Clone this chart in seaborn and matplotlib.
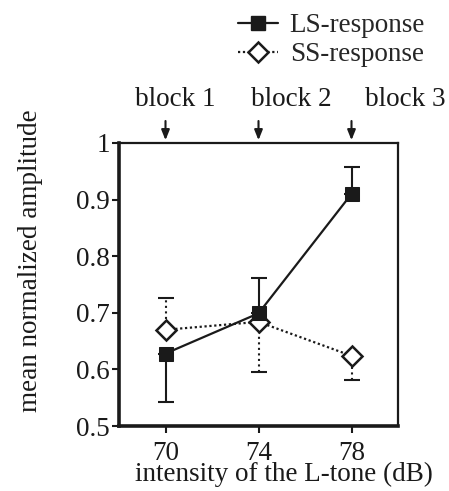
import matplotlib
matplotlib.use("Agg")
import matplotlib.pyplot as plt
import seaborn as sns
import pandas as pd
import numpy as np
from matplotlib.lines import Line2D

sns.set_theme(style="white")
plt.rcParams['font.family'] = ['Liberation Serif', 'DejaVu Serif']

intensity = [70, 74, 78]
ls_mean = [0.628, 0.699, 0.910]
ls_err = [0.085, 0.063, 0.048]
ls_dir = [-1, 1, 1]
ss_mean = [0.670, 0.684, 0.624]
ss_err = [0.057, 0.088, 0.043]
ss_dir = [1, -1, -1]
blocks = ["block 1", "block 2", "block 3"]

df = pd.DataFrame({
    "intensity": intensity * 2,
    "amp": ls_mean + ss_mean,
    "series": ["LS-response"] * 3 + ["SS-response"] * 3,
})

FS = 19.5
INK = '#1a1a1a'
W, H = 449, 491

fig = plt.figure(figsize=(4.49, 4.91), dpi=100)
ax = fig.add_axes([119/W, 1-426/H, 279/W, 283/H])

# error bars (one-sided)
for means, errs, dirs, dotted in [(ls_mean, ls_err, ls_dir, False),
                                  (ss_mean, ss_err, ss_dir, True)]:
    for x, m, e, d in zip(intensity, means, errs, dirs):
        lo = [e] if d < 0 else [0]
        hi = [e] if d > 0 else [0]
        eb = ax.errorbar([x], [m], yerr=[lo, hi], fmt='none', ecolor=INK,
                         elinewidth=1.5, capsize=5.5, capthick=1.5, zorder=1)
        if dotted:
            eb[2][0].set_linestyle(':')

sns.lineplot(data=df, x="intensity", y="amp", hue="series", style="series",
             palette=[INK, INK],
             dashes={"LS-response": "", "SS-response": (1, 1.2)},
             markers={"LS-response": "s", "SS-response": "D"},
             linewidth=1.6, ax=ax, legend=False, zorder=3)
lines = ax.get_lines()
ls_line = [l for l in lines if l.get_marker() == 's'][0]
ss_line = [l for l in lines if l.get_marker() == 'D'][0]
ls_line.set_markerfacecolor(INK); ls_line.set_markeredgecolor(INK)
ls_line.set_markersize(9.5); ls_line.set_zorder(4)
ss_line.set_markerfacecolor('white'); ss_line.set_markeredgecolor(INK)
ss_line.set_markeredgewidth(1.8); ss_line.set_markersize(10.5)
ss_line.set_zorder(3)

ax.set_xlim(68, 80)
ax.set_ylim(0.5, 1.0)
ax.set_xticks(intensity)
ax.set_xticklabels([str(v) for v in intensity])
ax.set_yticks([0.5, 0.6, 0.7, 0.8, 0.9, 1.0])
ax.set_yticklabels(["0.5", "0.6", "0.7", "0.8", "0.9", "1"])
ax.tick_params(axis='both', direction='out', length=5, width=1.5,
               labelsize=FS, colors=INK, left=True, bottom=True)
ax.tick_params(axis='y', pad=1.5)
ax.tick_params(axis='x', pad=6)
for s in ['left', 'bottom']:
    ax.spines[s].set_linewidth(2.6)
for s in ['top', 'right']:
    ax.spines[s].set_linewidth(1.6)
for s in ax.spines.values():
    s.set_color(INK)
ax.set_xlabel("")
ax.set_ylabel("")
fig.text(284/W, 1-474/H, "intensity of the L-tone (dB)", fontsize=FS, color=INK,
         ha='center', va='center')
fig.text(31/W, 1-261/H, "mean normalized amplitude", fontsize=FS, color=INK,
         ha='center', va='center', rotation=90)

label_x = [175, 291, 405]
for x, b, lx in zip(intensity, blocks, label_x):
    ax.annotate("", xy=(x, 1.0), xycoords=('data', 'axes fraction'),
                xytext=(x, 1.0 + 22/283), textcoords=('data', 'axes fraction'),
                arrowprops=dict(arrowstyle='-|>,head_length=0.5,head_width=0.2',
                                color=INK, lw=1.5, shrinkA=0, shrinkB=2),
                annotation_clip=False)
    fig.text(lx/W, 1-100/H, b, ha='center', va='center', fontsize=FS, color=INK)

# legend
h1 = Line2D([], [], color=INK, lw=1.6, marker='s', markersize=9.5,
            markerfacecolor=INK, markeredgecolor=INK)
h2 = Line2D([], [], color=INK, lw=1.6, ls=(0, (1, 1.2)), marker='D', markersize=10,
            markerfacecolor='white', markeredgecolor=INK, markeredgewidth=1.8)
fig.legend([h1, h2], ["LS-response", "SS-response"], loc='upper left',
           bbox_to_anchor=(222/W, 1.0 + 3/H), frameon=False, fontsize=FS,
           handlelength=1.45, handletextpad=0.45, labelspacing=0.15, borderpad=0.1)

fig.savefig("out.png", dpi=100)
